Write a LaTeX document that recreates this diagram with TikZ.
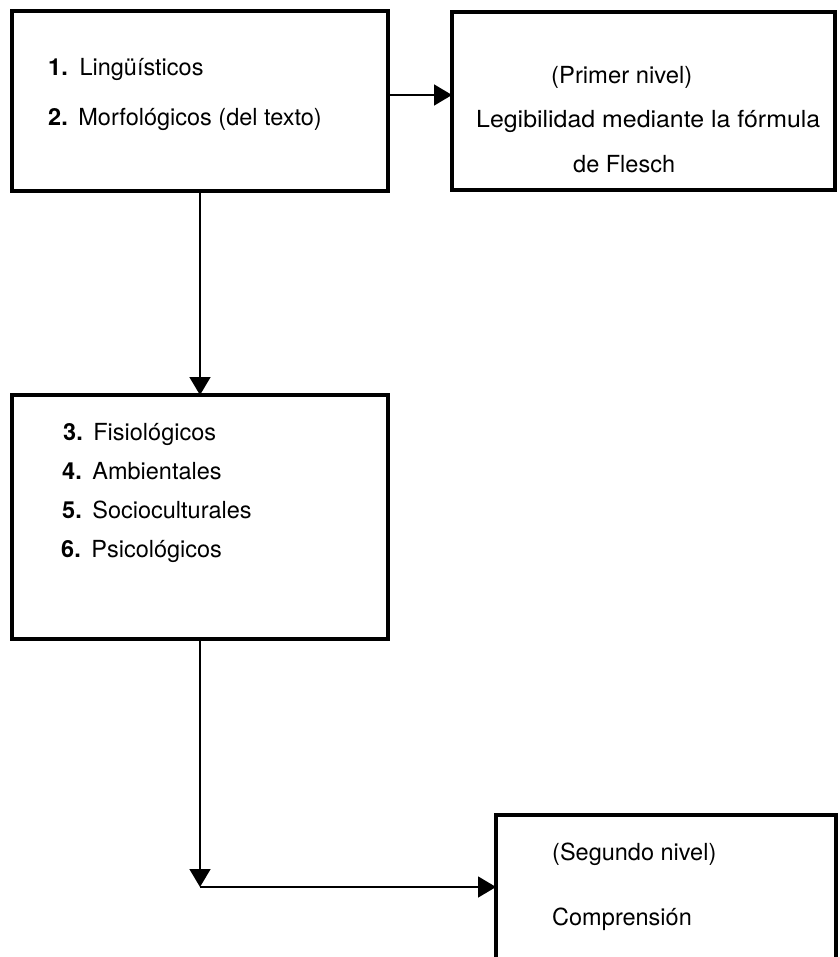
\documentclass[tikz,border=0pt]{standalone}
\usepackage{fontspec}
\usepackage{graphicx}
\setmainfont{TeX Gyre Heros}
\usetikzlibrary{arrows.meta}
\begin{document}
\begin{tikzpicture}[x=1pt,y=-1pt,
  box/.style={draw, line width=3.5pt, inner sep=0pt, outer sep=0pt},
  txt/.style={anchor=base west, inner sep=0pt, font=\fontsize{23.5}{28}\selectfont},
  conn/.style={line width=1.6pt},
  tip/.style={-{Triangle[length=18pt,width=21pt]}}]
\useasboundingbox (0,0) rectangle (839,957);
% boxes
\node[box, minimum width=376pt, minimum height=180pt] (b1) at (200,101) {};
\node[box, minimum width=383pt, minimum height=178pt] (b2) at (643.5,101) {};
\node[box, minimum width=376pt, minimum height=244pt] (b3) at (200,517) {};
\node[box, minimum width=340pt, minimum height=190pt] (b4) at (666,910) {};
% helper coordinates
\coordinate (ya) at (0,95);
\coordinate (corner) at (200,887);
% texts
\node[txt] (t1) at (48,76) {\textbf{1.}\hspace{0.5em}Lingüísticos};
\node[txt] (t2) at (48,125.5) {\textbf{2.}\hspace{0.45em}Morfológicos (del texto)};
\node[txt] (t3) at (551,84) {\resizebox{141pt}{\height}{(Primer nivel)}};
\node[txt] (t4) at (476,127.5) {\resizebox{344pt}{\height}{Legibilidad mediante la fórmula}};
\node[txt] (t5) at (573,172.5) {de Flesch};
\node[txt] (t6) at (63,440.5) {\textbf{3.}\hspace{0.45em}Fisiológicos};
\node[txt] (t7) at (62,479.5) {\textbf{4.}\hspace{0.45em}Ambientales};
\node[txt] (t8) at (62,518.5) {\textbf{5.}\hspace{0.45em}Socioculturales};
\node[txt] (t9) at (61,557.5) {\textbf{6.}\hspace{0.45em}Psicológicos};
\node[txt] (t10) at (552,860) {(Segundo nivel)};
\node[txt] (t11) at (552,925) {Comprensión};
% connectors
\draw[conn, tip] (b1.east |- ya) -- (b2.west |- ya);
\draw[conn, tip] (b1.south) -- (b3.north);
\draw[conn, tip] (b3.south) -- (corner);
\draw[conn, tip] (corner) -- (b4.west |- corner);
\end{tikzpicture}
\end{document}
